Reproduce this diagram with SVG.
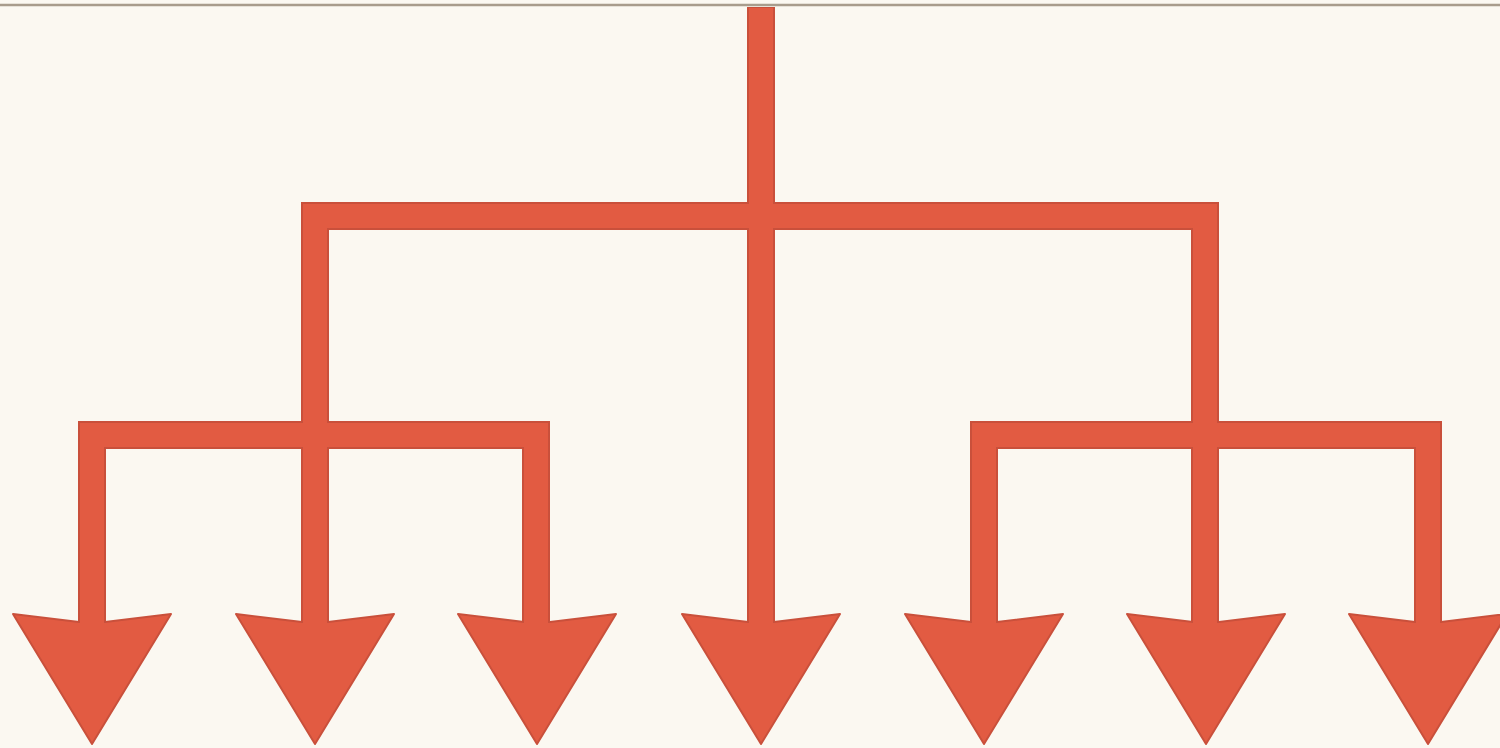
<svg xmlns="http://www.w3.org/2000/svg" width="1500" height="748" viewBox="0 0 1500 748">
  <defs>
    <style>
      .edge { fill: none; stroke: #C9503B; stroke-width: 28; stroke-linejoin: miter; stroke-linecap: butt; }
      .core { fill: none; stroke: #E25B42; stroke-width: 24; stroke-linejoin: miter; stroke-linecap: butt; }
      .head { fill: #E25B42; stroke: #C9503B; stroke-width: 2; stroke-linejoin: round; }
    </style>
    <polygon id="arrowhead" points="-79,614 -13,622 13,622 79,614 0,744"/>
  </defs>
  <rect x="0" y="0" width="1500" height="748" fill="#FBF8F1"/>
  <line x1="0" y1="5" x2="1500" y2="5" stroke="#A89C8C" stroke-width="2.5"/>

  <g id="connectors">
    <g class="edge">
      <path d="M761,7 V626"/>
      <path d="M315,626 V216 H1205 V626"/>
      <path d="M92,626 V435 H536 V626"/>
      <path d="M984,626 V435 H1428 V626"/>
    </g>
  </g>

  <g id="arrow-1"><use href="#arrowhead" class="head" x="92"/></g>
  <g id="arrow-2"><use href="#arrowhead" class="head" x="315"/></g>
  <g id="arrow-3"><use href="#arrowhead" class="head" x="537"/></g>
  <g id="arrow-4"><use href="#arrowhead" class="head" x="761"/></g>
  <g id="arrow-5"><use href="#arrowhead" class="head" x="984"/></g>
  <g id="arrow-6"><use href="#arrowhead" class="head" x="1206"/></g>
  <g id="arrow-7"><use href="#arrowhead" class="head" x="1428"/></g>

  <g id="connector-fill">
    <g class="core">
      <path d="M761,8 V632"/>
      <path d="M315,632 V216 H1205 V632"/>
      <path d="M92,632 V435 H536 V632"/>
      <path d="M984,632 V435 H1428 V632"/>
    </g>
  </g>
</svg>
